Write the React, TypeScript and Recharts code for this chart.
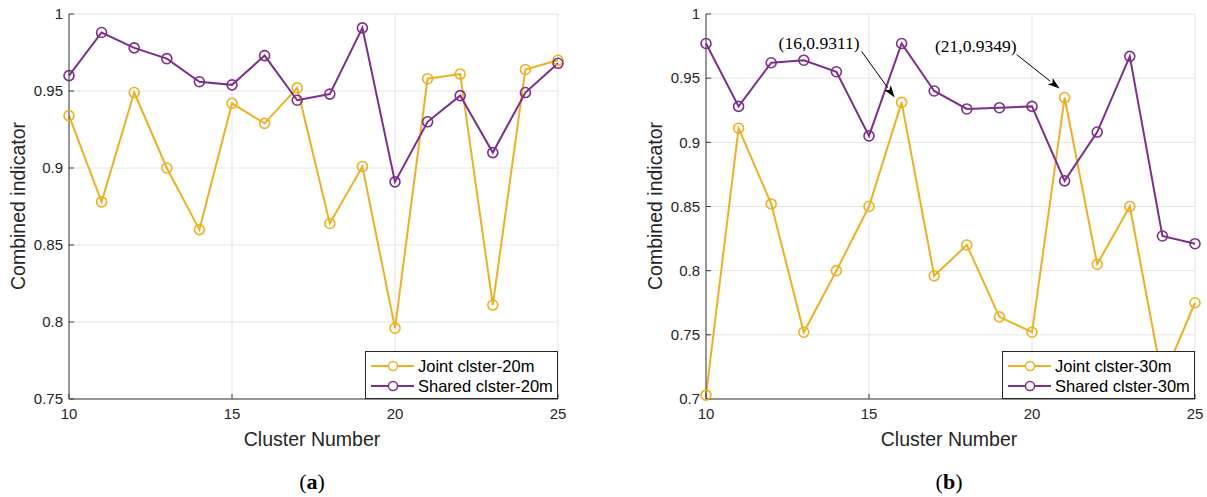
import React from "react";
import { LineChart, Line, XAxis, YAxis, CartesianGrid, Legend, ReferenceDot } from "recharts";

const clusters = [10, 11, 12, 13, 14, 15, 16, 17, 18, 19, 20, 21, 22, 23, 24, 25];
const joint20 = [0.934, 0.878, 0.949, 0.9, 0.86, 0.942, 0.929, 0.952, 0.864, 0.901, 0.796, 0.958, 0.961, 0.811, 0.964, 0.97];
const shared20 = [0.96, 0.988, 0.978, 0.971, 0.956, 0.954, 0.973, 0.944, 0.948, 0.991, 0.891, 0.93, 0.947, 0.91, 0.949, 0.968];
const joint30 = [0.703, 0.911, 0.852, 0.752, 0.8, 0.85, 0.9311, 0.796, 0.82, 0.764, 0.752, 0.9349, 0.805, 0.85, 0.715, 0.775];
const shared30 = [0.977, 0.928, 0.962, 0.964, 0.955, 0.905, 0.977, 0.94, 0.926, 0.927, 0.928, 0.87, 0.908, 0.967, 0.827, 0.821];
const xTicks = [10, 15, 20, 25];
const yTicks20 = [0.75, 0.8, 0.85, 0.9, 0.95, 1];
const yTicks30 = [0.7, 0.75, 0.8, 0.85, 0.9, 0.95, 1];
// clusters whose joint value is called out on panel (b)
const notes30 = [16, 21];

const W = 570;
const H = 497;
const YELLOW = "#EDB120";
const PURPLE = "#7E2F8E";
const AXIS = "#3c3c3c";
const TEXT = "#262626";
const SANS = "'Liberation Sans', Arial, Helvetica, sans-serif";
const SERIF = "'Liberation Serif', 'Times New Roman', serif";

// arrow geometry (pixel offsets from the annotated point)
const noteLayout: Record<number, { from: [number, number]; tip: [number, number]; text: [number, number] }> = {
  16: { from: [-40, -51], tip: [-7, -5], text: [-42, -53] },
  21: { from: [-48, -43], tip: [-5, -9], text: [-48, -46] },
};

function Arrow(props: any) {
  const { cx, cy, label, layout } = props;
  if (cx == null || cy == null) return <g />;
  const x1 = cx + layout.from[0];
  const y1 = cy + layout.from[1];
  const x2 = cx + layout.tip[0];
  const y2 = cy + layout.tip[1];
  const dx = x2 - x1;
  const dy = y2 - y1;
  const len = Math.sqrt(dx * dx + dy * dy);
  const ux = dx / len;
  const uy = dy / len;
  const hl = 12;
  const hw = 4;
  const bx = x2 - ux * hl;
  const by = y2 - uy * hl;
  const pts = `${x2},${y2} ${bx - uy * hw},${by + ux * hw} ${bx + ux * 3},${by + uy * 3} ${bx + uy * hw},${by - ux * hw}`;
  return (
    <g>
      <line x1={x1} y1={y1} x2={bx} y2={by} stroke="#000" strokeWidth={1} />
      <polygon points={pts} fill="#000" />
      <text
        x={cx + layout.text[0]}
        y={cy + layout.text[1]}
        textAnchor="end"
        fontFamily={SERIF}
        fontSize={17.5}
        fill="#000"
      >
        {label}
      </text>
    </g>
  );
}

function LegendBox(props: any) {
  const items = props.payload || [];
  return (
    <div
      style={{
        width: "100%",
        height: "100%",
        boxSizing: "border-box",
        border: `1px solid ${TEXT}`,
        background: "#fff",
        paddingTop: 4,
        paddingLeft: 4,
        fontFamily: SANS,
        fontSize: 16.5,
        color: "#000",
      }}
    >
      {items.map((p: any) => (
        <div key={p.value} style={{ display: "flex", alignItems: "center", height: 20 }}>
          <svg width={48} height={20} style={{ flex: "none" }}>
            <line x1={1} x2={44} y1={10} y2={10} stroke={p.color} strokeWidth={2} />
            <circle cx={23} cy={10} r={4.5} fill="#fff" stroke={p.color} strokeWidth={1.5} />
          </svg>
          <span style={{ whiteSpace: "nowrap" }}>{p.value}</span>
        </div>
      ))}
    </div>
  );
}

function Panel(props: {
  left: number;
  tag: string;
  suffix: string;
  yTicks: number[];
  joint: number[];
  shared: number[];
  notes: number[];
}) {
  const { left, tag, suffix, yTicks, joint, shared, notes } = props;
  const data = clusters.map((c, i) => ({ cluster: c, joint: joint[i], shared: shared[i] }));
  const domain: [number, number] = [yTicks[0], yTicks[yTicks.length - 1]];
  const tickStyle = { fontFamily: SANS, fontSize: 15, fill: TEXT };
  const none = () => <g />;
  return (
    <div style={{ position: "absolute", left, top: 0, width: W, height: H }}>
      <LineChart width={W} height={H} data={data} margin={{ top: 14, right: 12, bottom: 68, left: 9 }}>
        <CartesianGrid stroke="#e4e4e4" strokeWidth={1} />
        <XAxis
          dataKey="cluster"
          type="number"
          domain={[10, 25]}
          ticks={xTicks}
          height={30}
          tickSize={-5}
          tickMargin={14}
          tick={tickStyle}
          stroke={AXIS}
          axisLine={{ stroke: AXIS }}
          tickLine={{ stroke: AXIS }}
        />
        <XAxis
          xAxisId="top"
          orientation="top"
          type="number"
          domain={[10, 25]}
          ticks={xTicks}
          height={0}
          tickSize={-5}
          tick={none}
          axisLine={{ stroke: AXIS }}
          tickLine={{ stroke: AXIS }}
        />
        <YAxis
          type="number"
          domain={domain}
          ticks={yTicks}
          width={60}
          tickSize={-5}
          tickMargin={11}
          tick={tickStyle}
          tickFormatter={(v: number) => String(v)}
          axisLine={{ stroke: AXIS }}
          tickLine={{ stroke: AXIS }}
        />
        <YAxis
          yAxisId="right"
          orientation="right"
          type="number"
          domain={domain}
          ticks={yTicks}
          width={0}
          tickSize={-5}
          tick={none}
          axisLine={{ stroke: AXIS }}
          tickLine={{ stroke: AXIS }}
        />
        <Line
          dataKey="joint"
          name={`Joint clster-${suffix}`}
          stroke={YELLOW}
          strokeWidth={2}
          dot={{ r: 5, fill: "none", stroke: YELLOW, strokeWidth: 1.6 }}
          isAnimationActive={false}
        />
        <Line
          dataKey="shared"
          name={`Shared clster-${suffix}`}
          stroke={PURPLE}
          strokeWidth={2}
          dot={{ r: 5, fill: "none", stroke: PURPLE, strokeWidth: 1.6 }}
          isAnimationActive={false}
        />
        {notes.map((c) => {
          const v = joint[clusters.indexOf(c)];
          return (
            <ReferenceDot
              key={c}
              x={c}
              y={v}
              r={0}
              shape={(p: any) => <Arrow {...p} label={`(${c},${v})`} layout={noteLayout[c]} />}
            />
          );
        })}
        <Legend
          layout="horizontal"
          align="center"
          verticalAlign="middle"
          wrapperStyle={{ left: 365, top: 351, width: 193, height: 48 }}
          content={(p: any) => <LegendBox {...p} />}
        />
      </LineChart>
      <div
        style={{
          position: "absolute",
          left: 312,
          top: 439,
          transform: "translate(-50%, -50%)",
          fontFamily: SANS,
          fontSize: 19.5,
          color: TEXT,
          whiteSpace: "nowrap",
        }}
      >
        Cluster Number
      </div>
      <div
        style={{
          position: "absolute",
          left: 18,
          top: 206,
          transform: "translate(-50%, -50%) rotate(-90deg)",
          fontFamily: SANS,
          fontSize: 19.5,
          color: TEXT,
          whiteSpace: "nowrap",
        }}
      >
        Combined indicator
      </div>
      <div
        style={{
          position: "absolute",
          left: 312,
          top: 482,
          transform: "translate(-50%, -50%)",
          fontFamily: SERIF,
          fontSize: 22,
          color: "#000",
          whiteSpace: "nowrap",
        }}
      >
        (<b>{tag}</b>)
      </div>
    </div>
  );
}

export default function App() {
  return (
    <div style={{ position: "absolute", left: 0, top: 0, width: 1207, height: 497, background: "#fff", overflow: "hidden" }}>
      <Panel left={0} tag="a" suffix="20m" yTicks={yTicks20} joint={joint20} shared={shared20} notes={[]} />
      <Panel left={637} tag="b" suffix="30m" yTicks={yTicks30} joint={joint30} shared={shared30} notes={notes30} />
    </div>
  );
}
